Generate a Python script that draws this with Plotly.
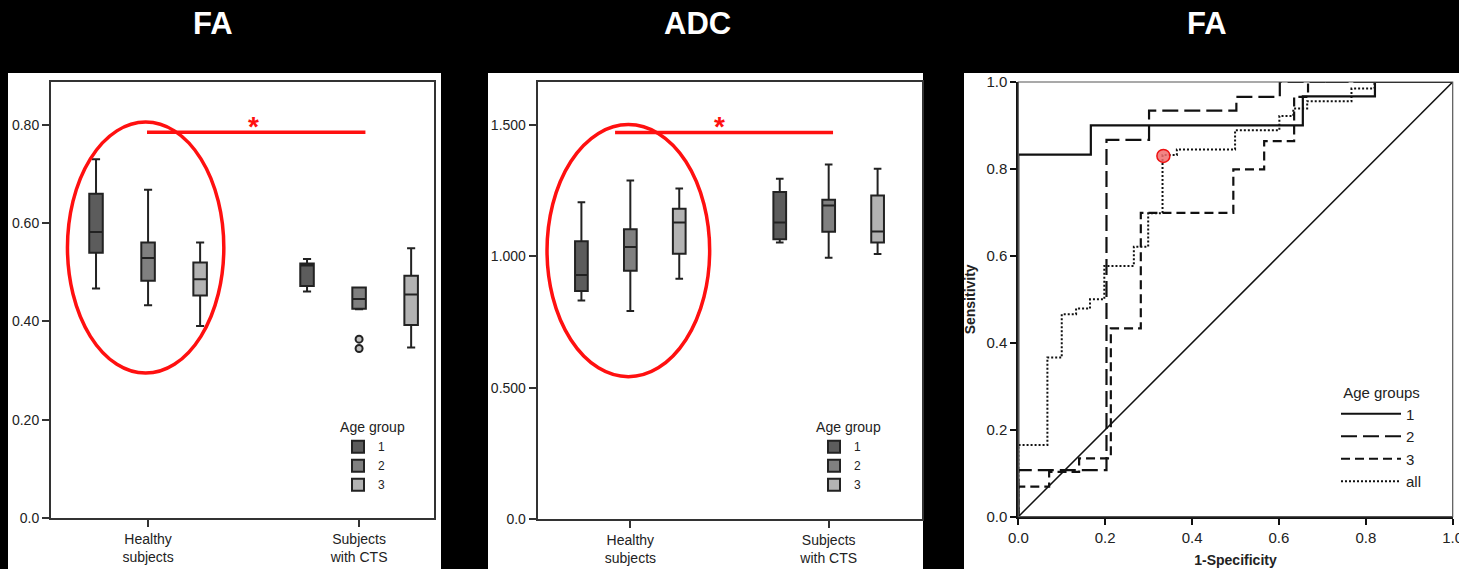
import plotly.graph_objects as go

W, H = 1459, 569

# ---------------- data ----------------
categories = ["Healthy subjects", "Subjects with CTS"]
category_labels = ["Healthy<br>subjects", "Subjects<br>with CTS"]
age_groups = ["1", "2", "3"]

# FA box statistics: one row per age group, columns = [Healthy, CTS]
fa_lower = [[0.467, 0.461], [0.433, 0.425], [0.391, 0.347]]
fa_q1 = [[0.540, 0.472], [0.483, 0.426], [0.453, 0.393]]
fa_median = [[0.582, 0.514], [0.529, 0.446], [0.486, 0.455]]
fa_q3 = [[0.660, 0.518], [0.561, 0.469], [0.520, 0.493]]
fa_upper = [[0.730, 0.527], [0.668, 0.469], [0.561, 0.549]]
# sample points for age group 2 (whisker extremes for healthy, outliers for CTS)
fa_points_g2 = [[0.433, 0.668], [0.364, 0.345]]
fa_ticks = [0.0, 0.2, 0.4, 0.6, 0.8]
fa_ticktext = ["0.0", "0.20", "0.40", "0.60", "0.80"]

# ADC box statistics
adc_lower = [[0.832, 1.053], [0.792, 0.995], [0.915, 1.009]]
adc_q1 = [[0.868, 1.065], [0.945, 1.094], [1.010, 1.053]]
adc_median = [[0.929, 1.129], [1.036, 1.194], [1.129, 1.095]]
adc_q3 = [[1.058, 1.245], [1.103, 1.216], [1.181, 1.232]]
adc_upper = [[1.206, 1.296], [1.289, 1.350], [1.258, 1.334]]
adc_ticks = [0.0, 0.5, 1.0, 1.5]
adc_ticktext = ["0.0", "0.500", "1.000", "1.500"]

# ROC curves (FA): corner points of step curves
roc1_fpr = [0, 0, 0.167, 0.655, 0.821, 1]
roc1_sens = [0, 0.833, 0.900, 0.967, 1.0, 1.0]
roc2_fpr = [0, 0, 0.203, 0.301, 0.502, 0.602, 1]
roc2_sens = [0, 0.107, 0.867, 0.934, 0.966, 1.0, 1.0]
roc3_fpr = [0, 0, 0.071, 0.140, 0.213, 0.282, 0.495, 0.566, 0.635, 0.667, 1]
roc3_sens = [0, 0.069, 0.103, 0.134, 0.433, 0.699, 0.799, 0.864, 0.966, 1.0, 1.0]
rocall_fpr = [0, 0, 0.067, 0.100, 0.133, 0.165, 0.198, 0.266, 0.299, 0.332,
              0.365, 0.499, 0.601, 0.633, 0.665, 0.767, 0.820, 1]
rocall_sens = [0, 0.165, 0.366, 0.466, 0.479, 0.500, 0.577, 0.621, 0.698, 0.832,
               0.845, 0.889, 0.922, 0.939, 0.956, 0.985, 1.0, 1.0]
cutoff_fpr = [0.334]
cutoff_sens = [0.830]
roc_ticks = [0.0, 0.2, 0.4, 0.6, 0.8, 1.0]

# ---------------- styling ----------------
FONT = "Liberation Sans, Arial, Helvetica, sans-serif"
group_fill = ["#5c5c5c", "#808080", "#b3b3b3"]
EDGE = "#222222"
RED = "#ff1010"


def px_x(p):
    return p / W


def px_y(p):
    return 1 - p / H


fig = go.Figure()

# ---- FA box panel ----
for i, g in enumerate(age_groups):
    kw = {}
    if i == 1:
        kw["y"] = fa_points_g2
    fig.add_trace(go.Box(
        x=categories, q1=fa_q1[i], median=fa_median[i], q3=fa_q3[i],
        lowerfence=fa_lower[i], upperfence=fa_upper[i],
        name=g, legend="legend", xaxis="x", yaxis="y",
        offsetgroup=g, alignmentgroup="fa",
        fillcolor=group_fill[i], line=dict(color=EDGE, width=2),
        whiskerwidth=0.6, boxpoints="outliers", jitter=0, pointpos=0,
        marker=dict(symbol="circle", size=7, color="rgba(150,150,150,0.6)",
                    line=dict(color=EDGE, width=2)),
        hoverinfo="skip", **kw))

# ---- ADC box panel ----
for i, g in enumerate(age_groups):
    fig.add_trace(go.Box(
        x=categories, q1=adc_q1[i], median=adc_median[i], q3=adc_q3[i],
        lowerfence=adc_lower[i], upperfence=adc_upper[i],
        name=g, legend="legend2", xaxis="x2", yaxis="y2",
        offsetgroup=g, alignmentgroup="adc",
        fillcolor=group_fill[i], line=dict(color=EDGE, width=2),
        whiskerwidth=0.6, boxpoints=False,
        hoverinfo="skip"))

# ---- ROC panel ----
fig.add_trace(go.Scatter(x=[0, 1], y=[0, 1], mode="lines", xaxis="x3", yaxis="y3",
                         line=dict(color="#111", width=1.5), showlegend=False,
                         hoverinfo="skip", cliponaxis=False))
roc_series = [
    ("1", roc1_fpr, roc1_sens, "solid", 2.2),
    ("2", roc2_fpr, roc2_sens, "16px,6px", 2.2),
    ("3", roc3_fpr, roc3_sens, "9px,5px", 2.2),
    ("all", rocall_fpr, rocall_sens, "2px,2px", 2.0),
]
for name, fx, sy, dash, w in roc_series:
    fig.add_trace(go.Scatter(x=fx, y=sy, mode="lines", name=name, legend="legend3",
                             xaxis="x3", yaxis="y3", line_shape="hv",
                             line=dict(color="#111", width=w, dash=dash),
                             hoverinfo="skip", cliponaxis=False))
fig.add_trace(go.Scatter(x=cutoff_fpr, y=cutoff_sens, mode="markers", xaxis="x3", yaxis="y3",
                         marker=dict(size=13, color="rgba(240,110,110,0.85)",
                                     line=dict(color="#ee1111", width=1.5)),
                         showlegend=False, hoverinfo="skip", cliponaxis=False))

# ---------------- layout ----------------
box_axis_common = dict(showline=True, mirror=True, linecolor="#333", linewidth=2,
                       ticks="outside", ticklen=7, tickwidth=2, tickcolor="#333",
                       showgrid=False, zeroline=False, fixedrange=True, automargin=False,
                       tickfont=dict(size=14, color="#222", family=FONT))

roc_axis_common = dict(range=[0, 1], tickvals=roc_ticks, tickformat=".1f", showline=True,
                       linecolor="#111", linewidth=2, ticks="outside", ticklen=6,
                       tickwidth=1.5, tickcolor="#111", showgrid=False, zeroline=False,
                       fixedrange=True, automargin=False, ticklabeloverflow="allow",
                       tickfont=dict(size=15, color="#222", family=FONT))

legend_common = dict(bgcolor="rgba(0,0,0,0)", xanchor="left", yanchor="top",
                     font=dict(size=12, color="#222", family=FONT),
                     traceorder="normal", itemwidth=30, tracegroupgap=0)

fig.update_layout(
    width=W, height=H, margin=dict(l=0, r=0, t=0, b=0, pad=0, autoexpand=False),
    autosize=False,
    paper_bgcolor="black", plot_bgcolor="white",
    font=dict(family=FONT, color="#222"),
    boxmode="group", boxgap=0.26, boxgroupgap=0.74,
    xaxis=dict(domain=[px_x(51), px_x(434)], anchor="y", type="category",
               categoryorder="array", categoryarray=categories,
               tickvals=categories, ticktext=category_labels,
               range=[-0.46, 1.355], **box_axis_common),
    yaxis=dict(domain=[px_y(518), px_y(82)], anchor="x", range=[0, 0.8875],
               tickvals=fa_ticks, ticktext=fa_ticktext, **box_axis_common),
    xaxis2=dict(domain=[px_x(537.7), px_x(921.7)], anchor="y2", type="category",
                categoryorder="array", categoryarray=categories,
                tickvals=categories, ticktext=category_labels,
                range=[-0.467, 1.469], **box_axis_common),
    yaxis2=dict(domain=[px_y(519), px_y(82)], anchor="x2", range=[0, 1.664],
                tickvals=adc_ticks, ticktext=adc_ticktext, **box_axis_common),
    xaxis3=dict(domain=[px_x(1018.3), px_x(1452.7)], anchor="y3",
                title=dict(text="1-Specificity", standoff=10,
                           font=dict(size=14, color="#222", family=FONT, weight="bold")),
                **roc_axis_common),
    yaxis3=dict(domain=[px_y(516.7), px_y(82)], anchor="x3",
                title=dict(text="Sensitivity", standoff=8,
                           font=dict(size=14, color="#222", family=FONT, weight="bold")),
                **roc_axis_common),
    legend=dict(x=px_x(338), y=px_y(414),
                title=dict(text="Age group", side="top center",
                           font=dict(size=14, color="#222", family=FONT)),
                **legend_common),
    legend2=dict(x=px_x(814), y=px_y(414),
                 title=dict(text="Age group", side="top center",
                            font=dict(size=14, color="#222", family=FONT)),
                 **legend_common),
    legend3=dict(x=px_x(1336), y=px_y(378),
                 title=dict(text="Age groups", side="top center",
                            font=dict(size=15, color="#222", family=FONT)),
                 bgcolor="rgba(0,0,0,0)", xanchor="left", yanchor="top",
                 font=dict(size=15, color="#222", family=FONT),
                 traceorder="normal", itemwidth=60, tracegroupgap=0),
)

# white panel backgrounds
for x0, x1 in [(8, 441), (488, 923), (964, 1459)]:
    fig.add_shape(type="rect", xref="paper", yref="paper", layer="below",
                  x0=px_x(x0), x1=px_x(x1), y0=0, y1=px_y(73),
                  fillcolor="white", line=dict(width=0))

# thin frame on ROC (top/right)
fig.add_shape(type="rect", xref="x3 domain", yref="y3 domain", x0=0, x1=1, y0=0, y1=1,
              line=dict(color="#555", width=1.2), layer="above")

# red highlights: ellipse, bar, asterisk
for (xr, yr, ex0, ex1, ey0, ey1, lx0, lx1, ly, ax) in [
        ("x", "y", -0.382, 0.359, 0.295, 0.806, -0.005, 1.03, 0.785, 0.50),
        ("x2", "y2", -0.42, 0.40, 0.542, 1.502, -0.077, 1.022, 1.472, 0.45)]:
    fig.add_shape(type="circle", xref=xr, yref=yr, x0=ex0, x1=ex1, y0=ey0, y1=ey1,
                  line=dict(color=RED, width=3.5), layer="above")
    fig.add_shape(type="line", xref=xr, yref=yr, x0=lx0, x1=lx1, y0=ly, y1=ly,
                  line=dict(color=RED, width=3.5), layer="above")
    fig.add_annotation(xref=xr, yref=yr, x=ax, y=ly, text="*", showarrow=False,
                       yanchor="middle", yshift=6,
                       font=dict(size=28, color=RED, family=FONT, weight="bold"))

# panel titles
for cx, t in [(213, "FA"), (697, "ADC"), (1207, "FA")]:
    fig.add_annotation(xref="paper", yref="paper", x=px_x(cx), y=px_y(23), text=t,
                       showarrow=False, xanchor="center", yanchor="middle",
                       font=dict(size=31, color="white", family=FONT, weight="bold"))

fig.write_html("out.html", config={"displayModeBar": False},
               post_script="document.body.style.margin='0';document.body.style.background='black';")
